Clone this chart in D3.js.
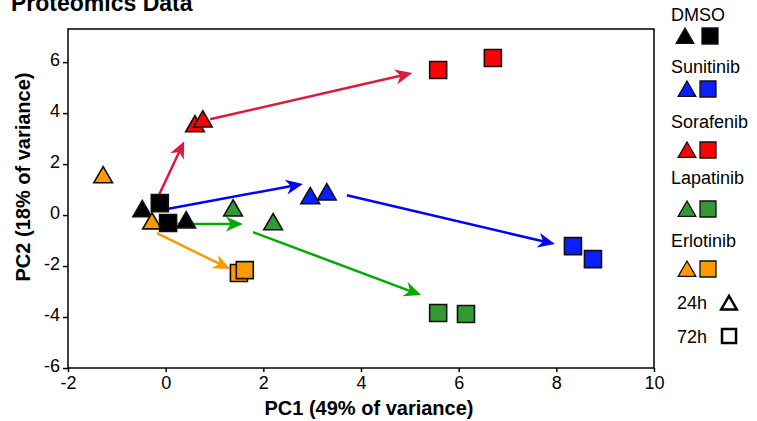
<!DOCTYPE html>
<html>
<head>
<meta charset="utf-8">
<script src="https://cdn.jsdelivr.net/npm/d3@7"></script>
<style>
  body { margin: 0; background: #fff; }
  svg { display: block; font-family: "Liberation Sans", Arial, sans-serif; }
</style>
</head>
<body>
<script>
// treatments and colours
const treatments = ["DMSO", "Sunitinib", "Sorafenib", "Lapatinib", "Erlotinib"];
const markerColors = ["#000000", "#0a1eff", "#ff0000", "#339933", "#ff9900"];
const arrowColors = ["#000000", "#0000ff", "#dc1a3c", "#00aa00", "#ff9900"];

// PCA scores, [PC1, PC2]
const pts24h = {
  DMSO: [[-0.48, 0.24], [0.42, -0.20]],
  Sunitinib: [[2.96, 0.75], [3.30, 0.90]],
  Sorafenib: [[0.60, 3.57], [0.76, 3.76]],
  Lapatinib: [[1.38, 0.27], [2.20, -0.27]],
  Erlotinib: [[-1.28, 1.57], [-0.28, -0.24]]
};
const pts72h = {
  DMSO: [[-0.12, 0.47], [0.05, -0.31]],
  Sunitinib: [[8.34, -1.22], [8.75, -1.73]],
  Sorafenib: [[5.58, 5.69], [6.70, 6.16]],
  Lapatinib: [[5.58, -3.84], [6.15, -3.88]],
  Erlotinib: [[1.50, -2.27], [1.62, -2.16]]
};

// trajectory arrows [from, to]
const arrows = [
  { t: "Sorafenib", from: [-0.14, 0.78], to: [0.38, 2.90] },
  { t: "Sorafenib", from: [0.91, 3.76], to: [5.05, 5.57] },
  { t: "Sunitinib", from: [0.03, 0.24], to: [2.81, 1.22] },
  { t: "Sunitinib", from: [3.71, 0.78], to: [7.97, -1.14] },
  { t: "Lapatinib", from: [0.25, -0.35], to: [1.58, -0.35] },
  { t: "Lapatinib", from: [1.79, -0.67], to: [5.23, -3.14] },
  { t: "Erlotinib", from: [-0.18, -0.71], to: [1.32, -2.12] }
];

const xTicks = [-2, 0, 2, 4, 6, 8, 10];
const yTicks = [-6, -4, -2, 0, 2, 4, 6];

const W = 757, H = 421;
const plot = { left: 68, right: 654, top: 29, bottom: 368 };

const x = d3.scaleLinear().domain([-2, 10]).range([plot.left, plot.right]);
const y = d3.scaleLinear().domain([-6, 7.3]).range([plot.bottom, plot.top]);

const svg = d3.select("body").append("svg")
  .attr("width", W).attr("height", H);

const colorOf = t => markerColors[treatments.indexOf(t)];
const arrowColorOf = t => arrowColors[treatments.indexOf(t)];

const tri = (s) => `M0,${-s * 0.47}L${s * 0.52},${s * 0.43}L${-s * 0.52},${s * 0.43}Z`;
const sq = (s) => `M${-s / 2},${-s / 2}h${s}v${s}h${-s}Z`;
const fmt = d => String(d);

// title
svg.append("text")
  .attr("x", 11).attr("y", 11)
  .attr("font-size", 23).attr("font-weight", "bold")
  .text("Proteomics Data");

// axes
svg.append("g")
  .attr("transform", `translate(0,${plot.bottom})`)
  .call(d3.axisBottom(x).tickValues(xTicks).tickFormat(fmt).tickSize(4).tickSizeOuter(0))
  .call(g => g.select(".domain").remove())
  .call(g => g.selectAll("line").attr("stroke-width", 1.5))
  .call(g => g.selectAll("text").attr("font-size", 18).attr("fill", "#000")
    .attr("font-family", "Liberation Sans, Arial").attr("dy", 0).attr("y", 21));

svg.append("g")
  .attr("transform", `translate(${plot.left},0)`)
  .call(d3.axisLeft(y).tickValues(yTicks).tickFormat(fmt).tickSize(5).tickSizeOuter(0))
  .call(g => g.select(".domain").remove())
  .call(g => g.selectAll("line").attr("stroke-width", 1.5))
  .call(g => g.selectAll("text").attr("font-size", 18).attr("fill", "#000")
    .attr("font-family", "Liberation Sans, Arial").attr("x", -8).attr("dy", "0.2em"));

svg.append("rect")
  .attr("x", plot.left).attr("y", plot.top)
  .attr("width", plot.right - plot.left).attr("height", plot.bottom - plot.top)
  .attr("fill", "none").attr("stroke", "#000").attr("stroke-width", 1.5);

svg.append("text")
  .attr("x", 369).attr("y", 415)
  .attr("text-anchor", "middle").attr("font-size", 20).attr("font-weight", "bold")
  .text("PC1 (49% of variance)");

svg.append("text")
  .attr("transform", "translate(30,177) rotate(-90)")
  .attr("text-anchor", "middle").attr("font-size", 20).attr("font-weight", "bold")
  .text("PC2 (18% of variance)");

// arrows
const arrowG = svg.append("g");
arrows.forEach(a => {
  const x1 = x(a.from[0]), y1 = y(a.from[1]);
  const x2 = x(a.to[0]), y2 = y(a.to[1]);
  const ang = Math.atan2(y2 - y1, x2 - x1);
  const c = arrowColorOf(a.t);
  arrowG.append("line")
    .attr("x1", x1).attr("y1", y1)
    .attr("x2", x2 - 10 * Math.cos(ang)).attr("y2", y2 - 10 * Math.sin(ang))
    .attr("stroke", c).attr("stroke-width", 2.5);
  arrowG.append("path")
    .attr("d", "M0,0L-17,-7.5L-12,0L-17,7.5Z")
    .attr("transform", `translate(${x2},${y2}) rotate(${ang * 180 / Math.PI})`)
    .attr("fill", c);
});

// points
const ptG = svg.append("g");
const flat = (obj, shape) => treatments.flatMap(t => obj[t].map(p => ({ t, p, shape })));
const all = flat(pts24h, "tri").concat(flat(pts72h, "sq"));
ptG.selectAll("path").data(all).join("path")
  .attr("d", d => d.shape === "tri" ? tri(18) : sq(17))
  .attr("transform", d => `translate(${x(d.p[0])},${y(d.p[1])})`)
  .attr("fill", d => colorOf(d.t))
  .attr("stroke", "#111").attr("stroke-width", 1.6)
  .attr("stroke-linejoin", "miter");

// legend
const lg = svg.append("g");
const legendRows = [
  { t: "DMSO", ty: 21, my: 36 },
  { t: "Sunitinib", ty: 73, my: 89 },
  { t: "Sorafenib", ty: 128, my: 150 },
  { t: "Lapatinib", ty: 184, my: 209 },
  { t: "Erlotinib", ty: 247, my: 269 }
];
legendRows.forEach((r, i) => {
  lg.append("text").attr("x", 671).attr("y", r.ty).attr("font-size", 18).text(r.t);
  const tx = i === 0 ? 685 : 687, sx = i === 0 ? 710 : 708;
  lg.append("path").attr("d", tri(17)).attr("transform", `translate(${tx},${r.my})`)
    .attr("fill", colorOf(r.t)).attr("stroke", "#111").attr("stroke-width", 1.3);
  lg.append("path").attr("d", sq(16)).attr("transform", `translate(${sx},${r.my})`)
    .attr("fill", colorOf(r.t)).attr("stroke", "#111").attr("stroke-width", 1.3);
});
lg.append("text").attr("x", 677).attr("y", 309).attr("font-size", 18).text("24h");
lg.append("path").attr("d", tri(15)).attr("transform", "translate(729,303)")
  .attr("fill", "none").attr("stroke", "#000").attr("stroke-width", 2.5);
lg.append("text").attr("x", 677).attr("y", 343).attr("font-size", 18).text("72h");
lg.append("path").attr("d", sq(14)).attr("transform", "translate(729,336)")
  .attr("fill", "none").attr("stroke", "#000").attr("stroke-width", 2.5);
</script>
</body>
</html>
